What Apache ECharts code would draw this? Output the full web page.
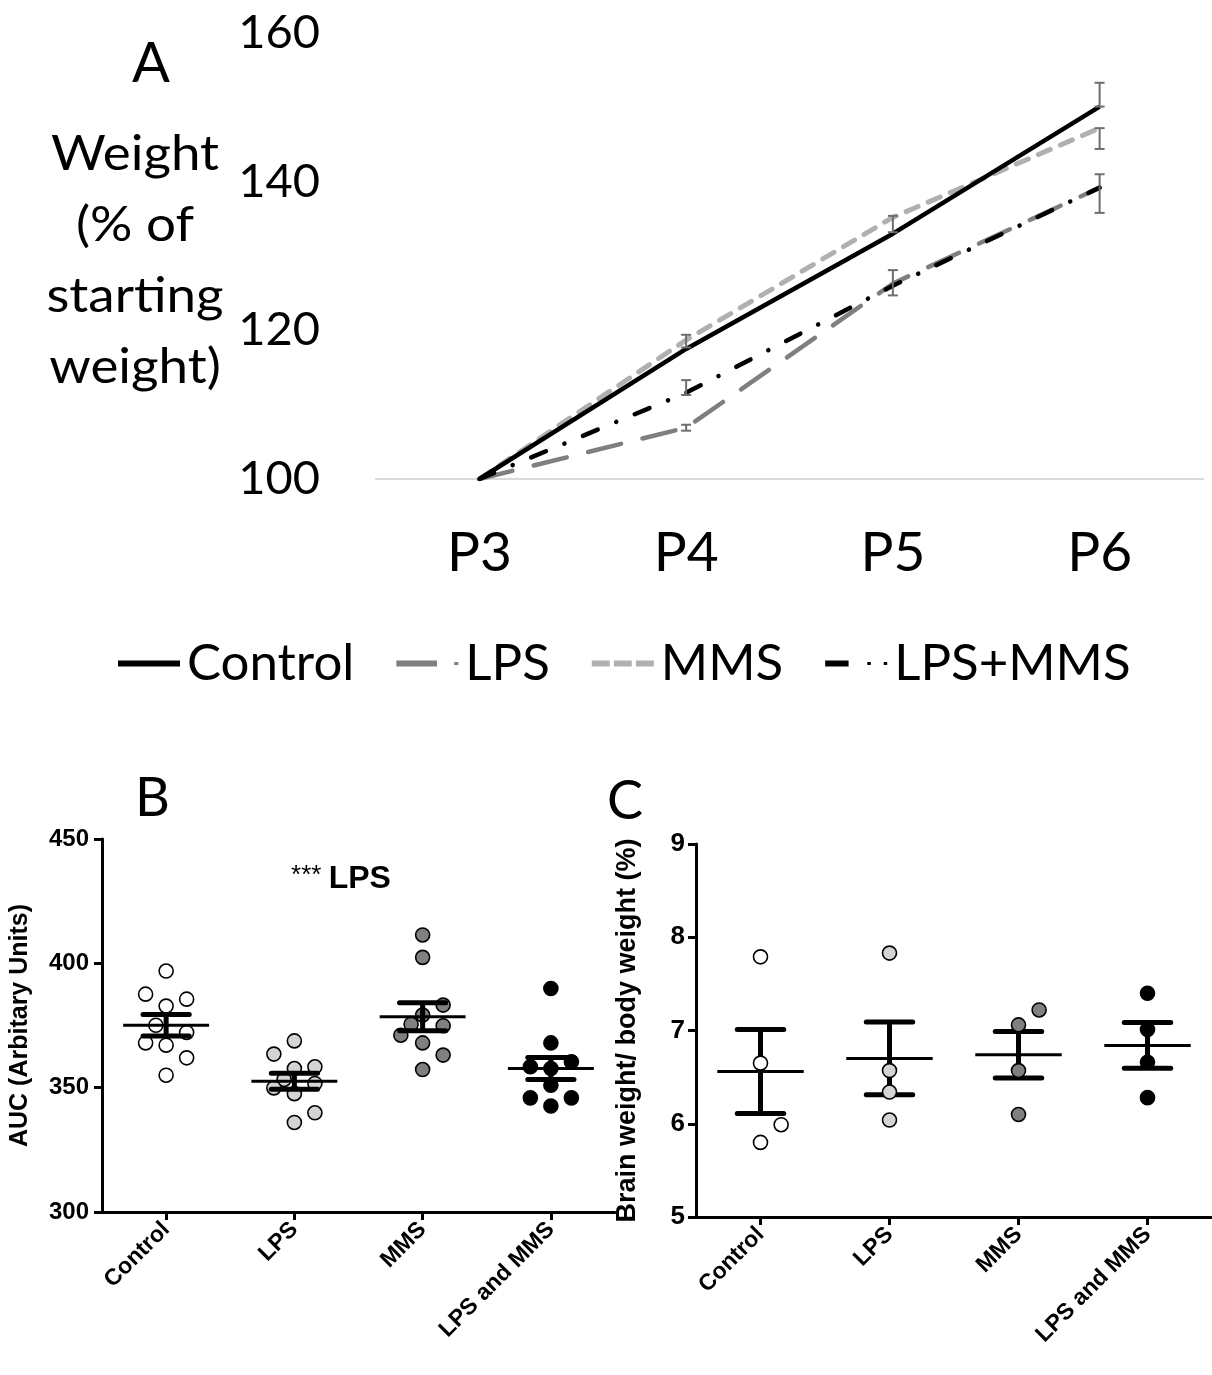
<!DOCTYPE html>
<html>
<head>
<meta charset="utf-8">
<title>Weight gain, AUC and brain/body weight</title>
<script src="https://cdn.jsdelivr.net/npm/echarts@6/dist/echarts.min.js"></script>
<style>
  html, body { margin: 0; padding: 0; background: #ffffff; }
  #chart { width: 1212px; height: 1375px; }
</style>
</head>
<body>
<div id="chart"></div>
<script>
// ---------- Panel A: weight as % of starting weight ----------
const days = ['P3', 'P4', 'P5', 'P6'];
const weightControl = [100, 117.5, 133.0, 150.1];
const weightLPS     = [100, 106.9, 126.3, 139.2];
const weightMMS     = [100, 118.7, 135.2, 147.2];
const weightLPSMMS  = [100, 111.6, 126.0, 139.2];
// error bars: [day index, low, high]
const weightErrors = [
  [3, 150.1, 153.3],
  [1, 117.7, 119.4],
  [2, 133.2, 135.4],
  [3, 144.4, 147.2],
  [1, 106.5, 107.3],
  [2, 124.7, 128.1],
  [3, 135.8, 141.0],
  [1, 111.3, 113.3]
];

// ---------- Panel B: AUC ----------
const groups = ['Control', 'LPS', 'MMS', 'LPS and MMS'];
const aucControl = [396.9, 387.6, 385.6, 382.8, 375.1, 372.2, 368.0, 367.1, 362.0, 355.0];
const aucLPS     = [368.8, 363.5, 357.7, 358.4, 353.3, 349.9, 351.7, 347.6, 339.9, 336.0];
const aucMMS     = [411.4, 402.4, 383.2, 379.2, 375.5, 374.9, 371.1, 368.0, 363.1, 357.3];
const aucLPSMMS  = [389.9, 368.0, 360.4, 358.4, 357.7, 351.0, 345.9, 345.9, 342.6];
const aucJitter = [
  [0, -0.16, 0.16, 0, -0.08, 0.16, -0.16, 0, 0.16, 0],
  [0, -0.16, 0, 0.16, -0.08, -0.16, 0.16, 0, 0.16, 0],
  [0, 0, 0.16, 0, -0.09, 0.16, -0.17, 0, 0.16, 0],
  [0, 0, 0.16, -0.16, 0, 0, -0.16, 0.16, 0]
];
const aucMean = [375.1, 352.6, 378.5, 357.7];
const aucSEM  = [4.3, 3.2, 5.6, 4.4];

// ---------- Panel C: brain weight / body weight ----------
const ratioControl = [7.79, 6.65, 5.99, 5.80];
const ratioLPS     = [7.83, 6.57, 6.34, 6.04];
const ratioMMS     = [7.22, 7.06, 6.57, 6.10];
const ratioLPSMMS  = [7.40, 7.01, 6.66, 6.28];
const ratioJitter = [
  [0, 0, 0.16, 0],
  [0, 0, 0, 0],
  [0.16, 0, 0, 0],
  [0, 0, 0, 0]
];
const ratioMean = [6.56, 6.70, 6.74, 6.84];
const ratioSEM  = [0.45, 0.39, 0.25, 0.245];

const groupFill = ['#ffffff', '#d4d4d4', '#808080', '#000000'];

const chart = echarts.init(document.getElementById('chart'), null, { renderer: 'canvas' });

const sansBold = { fontFamily: 'Liberation Sans', fontWeight: 'bold', color: '#000' };

function errorBarRender(params, api) {
  const x = api.value(0);
  const lo = api.coord([x, api.value(1)]);
  const hi = api.coord([x, api.value(2)]);
  const hw = 5;
  const st = { stroke: '#6e6e6e', lineWidth: 2 };
  return {
    type: 'group',
    children: [
      { type: 'line', shape: { x1: lo[0], y1: lo[1], x2: hi[0], y2: hi[1] }, style: st },
      { type: 'line', shape: { x1: lo[0] - hw, y1: lo[1], x2: lo[0] + hw, y2: lo[1] }, style: st },
      { type: 'line', shape: { x1: hi[0] - hw, y1: hi[1], x2: hi[0] + hw, y2: hi[1] }, style: st }
    ]
  };
}

function meanSemRender(params, api) {
  const x = api.value(0);
  const m = api.value(1);
  const s = api.value(2);
  const c = api.coord([x, m]);
  const t = api.coord([x, m + s]);
  const b = api.coord([x, m - s]);
  const band = api.size([1, 0])[0];
  const mw = band * 0.335;
  const cw = band * 0.18;
  const thick = { stroke: '#000', lineWidth: 5, lineCap: 'round' };
  return {
    type: 'group',
    children: [
      { type: 'line', shape: { x1: t[0], y1: t[1], x2: b[0], y2: b[1] }, style: { stroke: '#000', lineWidth: 5 } },
      { type: 'line', shape: { x1: t[0] - cw, y1: t[1], x2: t[0] + cw, y2: t[1] }, style: thick },
      { type: 'line', shape: { x1: b[0] - cw, y1: b[1], x2: b[0] + cw, y2: b[1] }, style: thick },
      { type: 'line', shape: { x1: c[0] - mw, y1: c[1], x2: c[0] + mw, y2: c[1] }, style: { stroke: '#000', lineWidth: 3 } }
    ]
  };
}

function dots(values, jitter, g) {
  return values.map((v, i) => [g + jitter[i], v]);
}

const aucSets = [aucControl, aucLPS, aucMMS, aucLPSMMS];
const ratioSets = [ratioControl, ratioLPS, ratioMMS, ratioLPSMMS];

const scatterSeries = [];
aucSets.forEach((vals, g) => {
  scatterSeries.push({
    type: 'scatter', name: 'auc-' + groups[g], xAxisIndex: 2, yAxisIndex: 1,
    data: dots(vals, aucJitter[g], g), symbol: 'circle', symbolSize: 14, z: 2,
    itemStyle: { color: groupFill[g], borderColor: '#000', borderWidth: 1.6, opacity: 1 },
    silent: true
  });
});
ratioSets.forEach((vals, g) => {
  scatterSeries.push({
    type: 'scatter', name: 'ratio-' + groups[g], xAxisIndex: 4, yAxisIndex: 2,
    data: dots(vals, ratioJitter[g], g), symbol: 'circle', symbolSize: 14, z: 4,
    itemStyle: { color: groupFill[g], borderColor: '#000', borderWidth: 1.6, opacity: 1 },
    silent: true
  });
});

const option = {
  backgroundColor: '#ffffff',
  animation: false,
  grid: [
    { left: 376, top: 33, width: 827, height: 446 },
    { left: 102, top: 839, width: 513, height: 373 },
    { left: 696, top: 844, width: 516, height: 373 }
  ],
  legend: {
    left: 118, top: 638, padding: 0, itemGap: 42,
    itemWidth: 62, itemHeight: 6, symbolKeepAspect: false,
    textStyle: { fontFamily: 'Lato', fontSize: 51, color: '#000', padding: [0, 0, 0, 2] },
    data: [
      { name: 'Control', icon: 'path://M0,0H62V5H0Z' },
      { name: 'LPS', icon: 'path://M0,0H40V6H0Z M57,1.5H61V4.5H57Z' },
      { name: 'MMS', icon: 'path://M0,0H17V5H0Z M21,0H38V5H21Z M42,0H59V5H42Z' },
      { name: 'LPS+MMS', icon: 'path://M0,0H20V6H0Z M36,1.5H39V4.5H36Z M50,1.5H53V4.5H50Z' }
    ]
  },
  xAxis: [
    {
      type: 'category', gridIndex: 0, data: days, boundaryGap: true,
      axisLine: { show: true, lineStyle: { color: '#d9d9d9', width: 2 } },
      axisTick: { show: false },
      axisLabel: { fontFamily: 'Lato', fontSize: 55, color: '#000', margin: 47 },
      splitLine: { show: false }
    },
    {
      type: 'category', gridIndex: 1, data: groups, boundaryGap: true,
      axisLine: { show: true, onZero: false, lineStyle: { color: '#000', width: 3 } },
      axisTick: { show: true, alignWithLabel: true, length: 8, lineStyle: { color: '#000', width: 3 } },
      axisLabel: Object.assign({ fontSize: 23, rotate: 45, margin: 14, interval: 0 }, sansBold),
      splitLine: { show: false }
    },
    { type: 'value', gridIndex: 1, min: -0.5, max: 3.5, show: false },
    {
      type: 'category', gridIndex: 2, data: groups, boundaryGap: true,
      axisLine: { show: true, onZero: false, lineStyle: { color: '#000', width: 3 } },
      axisTick: { show: true, alignWithLabel: true, length: 8, lineStyle: { color: '#000', width: 3 } },
      axisLabel: Object.assign({ fontSize: 23, rotate: 45, margin: 14, interval: 0 }, sansBold),
      splitLine: { show: false }
    },
    { type: 'value', gridIndex: 2, min: -0.5, max: 3.5, show: false }
  ],
  yAxis: [
    {
      type: 'value', gridIndex: 0, min: 100, max: 160, interval: 20,
      axisLine: { show: false }, axisTick: { show: false }, splitLine: { show: false },
      axisLabel: { fontFamily: 'Lato', fontSize: 47, color: '#000', margin: 56 }
    },
    {
      type: 'value', gridIndex: 1, min: 300, max: 450, interval: 50,
      axisLine: { show: true, onZero: false, lineStyle: { color: '#000', width: 3 } },
      axisTick: { show: true, length: 8, lineStyle: { color: '#000', width: 3 } },
      splitLine: { show: false },
      axisLabel: Object.assign({ fontSize: 24, margin: 13 }, sansBold),
      name: 'AUC (Arbitary Units)', nameLocation: 'middle', nameGap: 69,
      nameTextStyle: Object.assign({ fontSize: 25 }, sansBold)
    },
    {
      type: 'value', gridIndex: 2, min: 5, max: 9, interval: 1,
      axisLine: { show: true, onZero: false, lineStyle: { color: '#000', width: 3 } },
      axisTick: { show: true, length: 8, lineStyle: { color: '#000', width: 3 } },
      splitLine: { show: false },
      axisLabel: Object.assign({ fontSize: 26, margin: 11 }, sansBold),
      name: 'Brain weight/ body weight (%)', nameLocation: 'middle', nameGap: 55,
      nameTextStyle: Object.assign({ fontSize: 27 }, sansBold)
    }
  ],
  series: [
    {
      type: 'line', name: 'LPS', xAxisIndex: 0, yAxisIndex: 0, data: weightLPS,
      symbol: 'none', z: 2, itemStyle: { color: '#7f7f7f' },
      lineStyle: { color: '#7f7f7f', width: 4.5, type: [34, 22], cap: 'round' }
    },
    {
      type: 'line', name: 'MMS', xAxisIndex: 0, yAxisIndex: 0, data: weightMMS,
      symbol: 'none', z: 2, itemStyle: { color: '#b0b0b0' },
      lineStyle: { color: '#b0b0b0', width: 5, type: [13, 11], cap: 'round' }
    },
    {
      type: 'line', name: 'Control', xAxisIndex: 0, yAxisIndex: 0, data: weightControl,
      symbol: 'none', z: 3, itemStyle: { color: '#000000' },
      lineStyle: { color: '#000000', width: 4.5, type: 'solid' }
    },
    {
      type: 'line', name: 'LPS+MMS', xAxisIndex: 0, yAxisIndex: 0, data: weightLPSMMS,
      symbol: 'none', z: 4, itemStyle: { color: '#000000' },
      lineStyle: { color: '#000000', width: 4.5, type: [16, 20, 0.1, 20], cap: 'round' }
    },
    {
      type: 'custom', name: 'weight-error', xAxisIndex: 0, yAxisIndex: 0,
      data: weightErrors, renderItem: errorBarRender, z: 5, silent: true
    },
    {
      type: 'custom', name: 'auc-mean', xAxisIndex: 1, yAxisIndex: 1,
      data: aucMean.map((m, i) => [i, m, aucSEM[i]]), renderItem: meanSemRender, z: 3, silent: true
    },
    {
      type: 'custom', name: 'ratio-mean', xAxisIndex: 3, yAxisIndex: 2,
      data: ratioMean.map((m, i) => [i, m, ratioSEM[i]]), renderItem: meanSemRender, z: 3, silent: true
    }
  ].concat(scatterSeries),
  graphic: [
    { type: 'text', left: 132, top: 36, style: { text: 'A', fontFamily: 'Lato', fontSize: 56, fill: '#000' } },
    {
      type: 'text', x: 135, y: 261, scaleX: 1.08,
      style: {
        text: 'Weight\n(% of\nstar\u200Cting\nweight)', fontFamily: 'Lato', fontSize: 49, lineHeight: 71,
        fill: '#000', align: 'center', verticalAlign: 'middle'
      }
    },
    { type: 'text', left: 135, top: 772, style: { text: 'B', fontFamily: 'Lato', fontSize: 54, fill: '#000' } },
    { type: 'text', left: 607, top: 775, style: { text: 'C', fontFamily: 'Lato', fontSize: 54, fill: '#000' } },
    {
      type: 'text', x: 341, y: 879,
      style: {
        text: '{a|*** }{b|LPS}', align: 'center', verticalAlign: 'middle',
        rich: {
          a: { fontFamily: 'Liberation Sans', fontSize: 26, fill: '#000', verticalAlign: 'top' },
          b: { fontFamily: 'Liberation Sans', fontWeight: 'bold', fontSize: 32, fill: '#000' }
        }
      }
    }
  ]
};

chart.setOption(option);
</script>
</body>
</html>
